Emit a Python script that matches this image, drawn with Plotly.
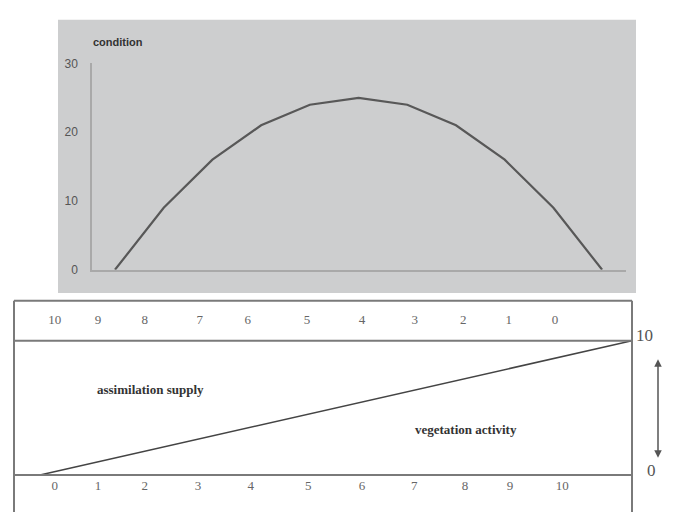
import plotly.graph_objects as go

# ---- data ----
x_vals = [0, 1, 2, 3, 4, 5, 6, 7, 8, 9, 10]
condition = [0, 9, 16, 21, 24, 25, 24, 21, 16, 9, 0]
y_ticks = [0, 10, 20, 30]

supply_labels = ["10", "9", "8", "7", "6", "5", "4", "3", "2", "1", "0"]
supply_pos = [0.25, 0.98, 1.77, 2.70, 3.51, 4.51, 5.44, 6.33, 7.15, 7.92, 8.70]
activity_labels = ["0", "1", "2", "3", "4", "5", "6", "7", "8", "9", "10"]
activity_pos = [0.25, 0.98, 1.77, 2.67, 3.56, 4.53, 5.44, 6.32, 7.18, 7.94, 8.82]
diag_x = [0, 10]
diag_y = [0, 10]

W, H = 678, 519
def px(x):
    return x / W
def py(y):
    return 1 - y / H

fig = go.Figure()

# top chart curve
fig.add_trace(go.Scatter(x=x_vals, y=condition, mode="lines",
                         line=dict(color="#585858", width=2.2),
                         xaxis="x", yaxis="y", showlegend=False, hoverinfo="skip"))

# bottom diagonal
fig.add_trace(go.Scatter(x=diag_x, y=diag_y, mode="lines",
                         line=dict(color="#444444", width=1.5),
                         xaxis="x2", yaxis="y2", showlegend=False, hoverinfo="skip"))

# row labels
serif = "Liberation Serif"
fig.add_trace(go.Scatter(x=supply_pos, y=[11.52] * len(supply_pos), mode="text",
                         text=supply_labels, textfont=dict(family=serif, size=13, color="#666666"),
                         xaxis="x2", yaxis="y2", showlegend=False, hoverinfo="skip"))
fig.add_trace(go.Scatter(x=activity_pos, y=[-0.87] * len(activity_pos), mode="text",
                         text=activity_labels, textfont=dict(family=serif, size=13, color="#666666"),
                         xaxis="x2", yaxis="y2", showlegend=False, hoverinfo="skip"))

shapes = [
    # gray panel behind top chart
    dict(type="rect", xref="paper", yref="paper", x0=px(58), x1=px(636), y0=py(294), y1=py(13),
         fillcolor="#cdcecf", line=dict(width=0), layer="below"),
]
lc = "#7a7a7a"
# bottom panel frame lines
shapes += [
    dict(type="line", xref="x2 domain", yref="y2 domain", x0=0, x1=1, y0=1, y1=1, line=dict(color=lc, width=2)),
    dict(type="line", xref="x2 domain", yref="y2", x0=0, x1=1, y0=10, y1=10, line=dict(color=lc, width=2)),
    dict(type="line", xref="x2 domain", yref="y2", x0=0, x1=1, y0=0, y1=0, line=dict(color=lc, width=2)),
    dict(type="line", xref="x2 domain", yref="y2 domain", x0=0, x1=0, y0=0, y1=1, line=dict(color=lc, width=2)),
    dict(type="line", xref="x2 domain", yref="y2 domain", x0=1, x1=1, y0=0, y1=1, line=dict(color=lc, width=2)),
]

annotations = [
    dict(text="<b>condition</b>", xref="paper", yref="paper", x=px(91), y=py(36),
         xanchor="left", yanchor="middle",
         showarrow=False, font=dict(family="Liberation Sans", size=11, color="#333333")),
    dict(text="<b>assimilation supply</b>", xref="x2", yref="y2", x=1.86, y=6.38,
         showarrow=False, font=dict(family=serif, size=13, color="#333333")),
    dict(text="<b>vegetation activity</b>", xref="x2", yref="y2", x=7.2, y=3.41,
         showarrow=False, font=dict(family=serif, size=13, color="#333333")),
    dict(text="10", xref="paper", yref="paper", x=px(655), y=py(338),
         showarrow=False, font=dict(family=serif, size=17, color="#555555")),
    dict(text="0", xref="paper", yref="paper", x=px(658), y=py(488),
         showarrow=False, font=dict(family=serif, size=17, color="#555555")),
    # double-headed arrow
    dict(text="", xref="paper", yref="paper", x=px(658), y=py(362),
         axref="pixel", ayref="pixel", ax=0, ay=100,
         showarrow=True, arrowhead=2, startarrowhead=2, arrowside="end+start",
         arrowsize=1, arrowwidth=1.5, arrowcolor="#555555"),
]

fig.update_layout(
    width=W, height=H, margin=dict(l=0, r=0, t=0, b=0),
    paper_bgcolor="white", plot_bgcolor="rgba(0,0,0,0)",
    xaxis=dict(domain=[px(92), px(626)], range=[-0.472, 10.49], showgrid=False, zeroline=False,
               showticklabels=False, ticks="", showline=True, linecolor="#a9a9a9", linewidth=1.5,
               anchor="y", fixedrange=True),
    yaxis=dict(domain=[py(270), py(58)], range=[0, 30], showgrid=False, zeroline=False,
               tickvals=y_ticks, ticks="", ticklabelstandoff=10,
               tickfont=dict(family="Liberation Sans", size=12, color="#555555"),
               showline=True, linecolor="#a9a9a9", linewidth=1.5, anchor="x", fixedrange=True),
    xaxis2=dict(domain=[px(14), px(632)], range=[-0.439, 10], visible=False, anchor="y2", fixedrange=True),
    yaxis2=dict(domain=[0, py(302)], range=[-2.754, 12.971], visible=False, anchor="x2", fixedrange=True),
    shapes=shapes, annotations=annotations,
)

fig.write_html("out.html", config={"responsive": False, "displayModeBar": False},
               post_script="document.body.style.margin='0';document.body.style.overflow='hidden';")
